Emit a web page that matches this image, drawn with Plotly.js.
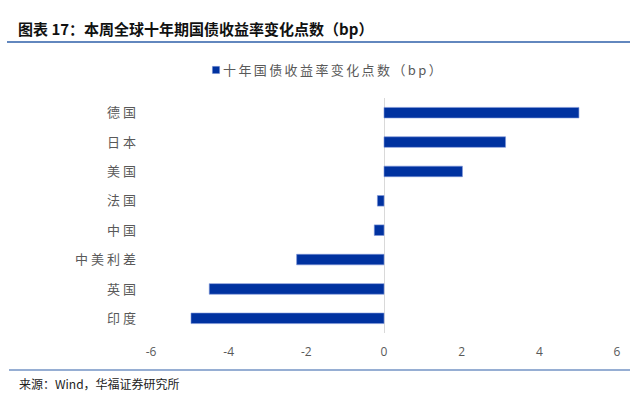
<!DOCTYPE html>
<html>
<head>
<meta charset="utf-8">
<script src="https://cdn.plot.ly/plotly-3.0.1.min.js"></script>
<style>
html,body{margin:0;padding:0;background:#fff;}
#chart{width:630px;height:419px;}
#chart .ytick text{letter-spacing:3px;}
#chart .legendtext{letter-spacing:2.4px; transform:translateX(-13px);}
#chart .legendpoints path{transform:translate(20px,0px) scale(0.6);}
</style>
</head>
<body>
<div id="chart"></div>
<script>
const categories = ["德国", "日本", "美国", "法国", "中国", "中美利差", "英国", "印度"];
const values = [5.02, 3.13, 2.02, -0.17, -0.25, -2.25, -4.5, -4.97];
const seriesName = "十年国债收益率变化点数（bp）";
const tickVals = [-6, -4, -2, 0, 2, 4, 6];

const L = 151, R = 617, T = 98, B = 333, W = 630, H = 419;
const px = x => (x - L) / (R - L);
const py = y => (B - y) / (B - T);

const trace = {
  type: 'bar',
  orientation: 'h',
  y: categories,
  x: values,
  name: seriesName,
  width: 0.36,
  marker: {color: '#0032A0', line: {color: '#7d95d8', width: 0.6}},
  showlegend: true,
  hoverinfo: 'none'
};

const layout = {
  width: W, height: H,
  margin: {l: L, r: W - R, t: T, b: H - B, pad: 0},
  paper_bgcolor: '#fff', plot_bgcolor: '#fff',
  font: {family: '"Noto Sans CJK SC", "Noto Sans", sans-serif', color: '#595959'},
  bargap: 0.64,
  xaxis: {
    range: [-6, 6], tickvals: tickVals, ticktext: tickVals.map(String),
    showgrid: false, zeroline: true, zerolinecolor: '#d9d9d9', zerolinewidth: 1,
    showline: false, ticks: '', ticklabelstandoff: 10,
    tickfont: {size: 12, color: '#595959', family: '"Open Sans", sans-serif'},
    fixedrange: true
  },
  yaxis: {
    type: 'category', autorange: 'reversed', showgrid: false, zeroline: false,
    showline: false, ticks: '', ticklabelstandoff: 11,
    tickfont: {size: 13, color: '#595959', family: '"Noto Sans CJK SC", sans-serif'},
    fixedrange: true
  },
  legend: {
    orientation: 'h', x: px(196), xanchor: 'left', y: py(70), yanchor: 'middle',
    font: {size: 13, color: '#595959'}, itemwidth: 30,
    entrywidth: 280, entrywidthmode: 'pixels'
  },
  shapes: [
    {type: 'line', xref: 'paper', yref: 'paper', x0: px(7), x1: px(630), y0: py(42), y1: py(42), line: {color: '#2e5fa8', width: 1.5}},
    {type: 'line', xref: 'paper', yref: 'paper', x0: px(9), x1: px(630), y0: py(370), y1: py(370), line: {color: '#2e5fa8', width: 1.2}}
  ],
  annotations: [
    {xref: 'paper', yref: 'paper', x: px(16), y: py(28), xanchor: 'left', yanchor: 'middle', showarrow: false,
     text: '<b>图表 17：本周全球十年期国债收益率变化点数（bp）</b>', font: {size: 15, color: '#111', family: '"Noto Sans CJK SC", sans-serif'}},
    {xref: 'paper', yref: 'paper', x: px(17), y: py(383), xanchor: 'left', yanchor: 'middle', showarrow: false,
     text: '来源：Wind，华福证券研究所', font: {size: 12, color: '#222', family: '"Noto Sans CJK SC", sans-serif'}}
  ]
};

Plotly.newPlot('chart', [trace], layout, {displayModeBar: false, staticPlot: true});
</script>
</body>
</html>
